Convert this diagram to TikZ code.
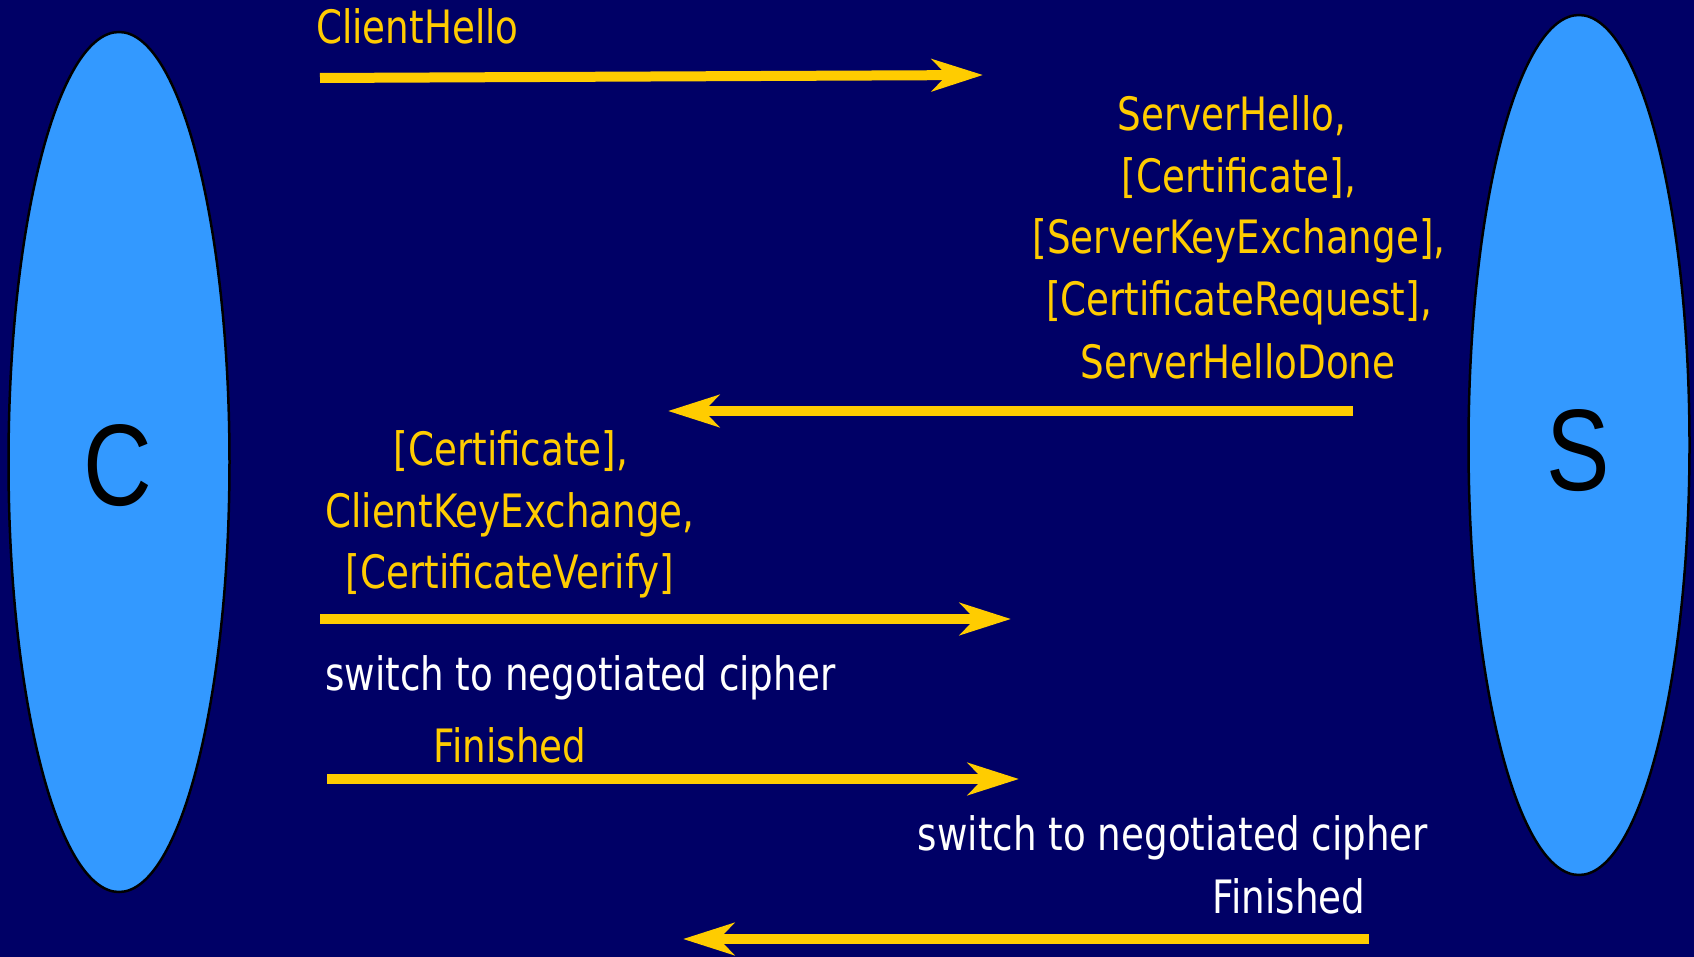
\documentclass[tikz,border=0pt]{standalone}
\usepackage{fontspec}
\usetikzlibrary{arrows.meta,shapes.geometric}
\newfontfamily\msgfont[FakeStretch=0.81]{DejaVu Sans}
\newfontfamily\partyfont[FakeStretch=0.82]{Liberation Sans}
\definecolor{slidebg}{RGB}{0,0,102}
\definecolor{partyblue}{RGB}{51,153,255}
\definecolor{msgyellow}{RGB}{255,204,0}

\begin{document}
\begin{tikzpicture}[x=1pt,y=-1pt,
  party/.style={ellipse, draw=black, line width=2.5pt, fill=partyblue,
    minimum width=221pt, minimum height=860pt, inner sep=0pt},
  partylabel/.style={font=\partyfont\fontsize{116}{116}\selectfont, text=black, inner sep=0pt},
  msg/.style={font=\msgfont\fontsize{46}{55}\selectfont, text=msgyellow, inner sep=0pt, anchor=base},
  note/.style={msg, text=white},
  flow/.style={draw=msgyellow, line width=10pt,
    -{Stealth[length=51pt,width=32pt,inset=15pt]}},
]
% slide background and page size
\fill[slidebg] (0,0) rectangle (1694,957);
\useasboundingbox (0,0) rectangle (1694,957);

% the two parties
\node[party] (client) at (119,462) {};
\node[party] (server) at (1579,445) {};
\node[partylabel] (clientname) at (118,466) {C};
\node[partylabel] (servername) at (1578,451) {S};

% arrow end points
\coordinate (m1s) at (320,78);   \coordinate (m1e) at (983,75);
\coordinate (m2s) at (1353,411); \coordinate (m2e) at (668,411);
\coordinate (m3s) at (320,619);  \coordinate (m3e) at (1011,619);
\coordinate (m4s) at (327,779);  \coordinate (m4e) at (1019,779);
\coordinate (m5s) at (1369,939); \coordinate (m5e) at (683,939);

% messages
\node[msg, anchor=base west] (hello) at (316,44) {ClientHello};
\draw[flow] (m1s) -- (m1e);

\node[msg] (sh1) at (1232,131) {ServerHello,};
\node[msg] (sh2) at (1239,193) {[Certificate],};
\node[msg] (sh3) at (1239,254) {[ServerKeyExchange],};
\node[msg] (sh4) at (1239,316) {[CertificateRequest],};
\node[msg] (sh5) at (1238,378) {ServerHelloDone};
\draw[flow] (m2s) -- (m2e);

\node[msg] (ck1) at (511,465) {[Certificate],};
\node[msg] (ck2) at (510,527) {ClientKeyExchange,};
\node[msg] (ck3) at (510,588) {[CertificateVerify]};
\draw[flow] (m3s) -- (m3e);

\node[note, anchor=base west] (cswitch) at (325,690) {switch to negotiated cipher};
\node[msg] (cfin) at (510,762) {Finished};
\draw[flow] (m4s) -- (m4e);

\node[note] (sswitch) at (1173,850) {switch to negotiated cipher};
\node[note] (sfin) at (1289,913) {Finished};
\draw[flow] (m5s) -- (m5e);
\end{tikzpicture}
\end{document}
